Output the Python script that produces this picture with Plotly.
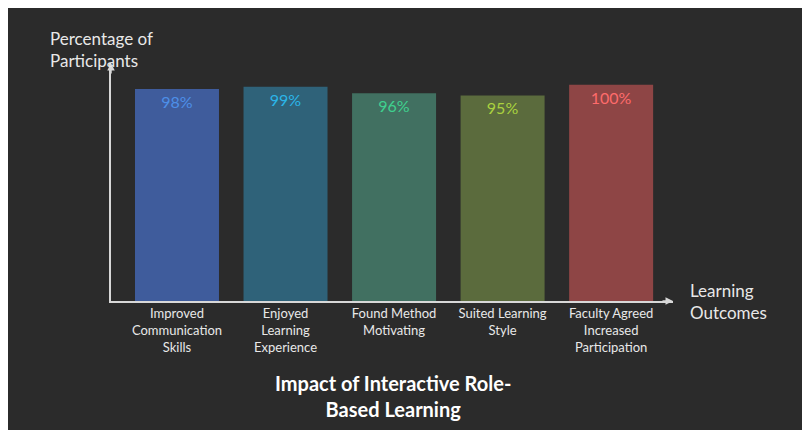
import plotly.graph_objects as go

categories = ["Improved<br>Communication<br>Skills", "Enjoyed<br>Learning<br>Experience",
              "Found Method<br>Motivating", "Suited Learning<br>Style",
              "Faculty Agreed<br>Increased<br>Participation"]
values = [98, 99, 96, 95, 100]
labels = ["98%", "99%", "96%", "95%", "100%"]

bar_colors = ["#3f5c9c", "#2f6279", "#417061", "#5b6b3d", "#8e4545"]
text_colors = ["#4d8fe8", "#2bb5e8", "#3fd08f", "#aad23f", "#ff6b6b"]

fig = go.Figure(go.Bar(
    x=list(range(len(categories))), y=values,
    marker=dict(color=bar_colors, line=dict(width=0)),
    text=labels, textposition="inside", insidetextanchor="end",
    textfont=dict(color=text_colors, size=16, family="Lato"),
    hoverinfo="skip",
))

fig.update_layout(
    width=810, height=430,
    paper_bgcolor="#2b2b2b", plot_bgcolor="#2b2b2b",
    margin=dict(l=103, r=145, t=55, b=137),
    bargap=0.226, showlegend=False,
    font=dict(family="Lato", color="#e8e8e8"),
    xaxis=dict(range=[-0.608, 4.57], tickvals=list(range(len(categories))),
               ticktext=categories, showgrid=False, zeroline=False,
               showline=True, linecolor="#d8d8d8", linewidth=1.5,
               ticks="", tickfont=dict(size=13, color="#e8e8e8")),
    yaxis=dict(range=[0, 110], showticklabels=False, showgrid=False,
               zeroline=False, showline=True, linecolor="#d8d8d8", linewidth=1.5),
)

# arrowheads at axis ends
fig.add_annotation(x=1, y=0, xref="paper", yref="paper", ax=-12, ay=0,
                   showarrow=True, arrowhead=2, arrowsize=1, arrowwidth=1.5,
                   arrowcolor="#d8d8d8", text="")
fig.add_annotation(x=0, y=1, xref="paper", yref="paper", ax=0, ay=12,
                   showarrow=True, arrowhead=2, arrowsize=1, arrowwidth=1.5,
                   arrowcolor="#d8d8d8", text="")

fig.add_annotation(x=-0.112, y=1.055, xref="paper", yref="paper",
                   text="Percentage of<br>Participants", showarrow=False,
                   xanchor="left", yanchor="middle", align="left",
                   font=dict(size=17, color="#e8e8e8"))
fig.add_annotation(x=1.027, y=0.0, xref="paper", yref="paper",
                   text="Learning<br>Outcomes", showarrow=False,
                   xanchor="left", yanchor="middle", align="left",
                   font=dict(size=17, color="#e8e8e8"))
fig.add_annotation(x=0.502, y=-0.40, xref="paper", yref="paper",
                   text="<b>Impact of Interactive Role-<br>Based Learning</b>",
                   showarrow=False, xanchor="center", yanchor="middle",
                   font=dict(size=20, color="#ffffff"))

fig.write_html("out.html")
